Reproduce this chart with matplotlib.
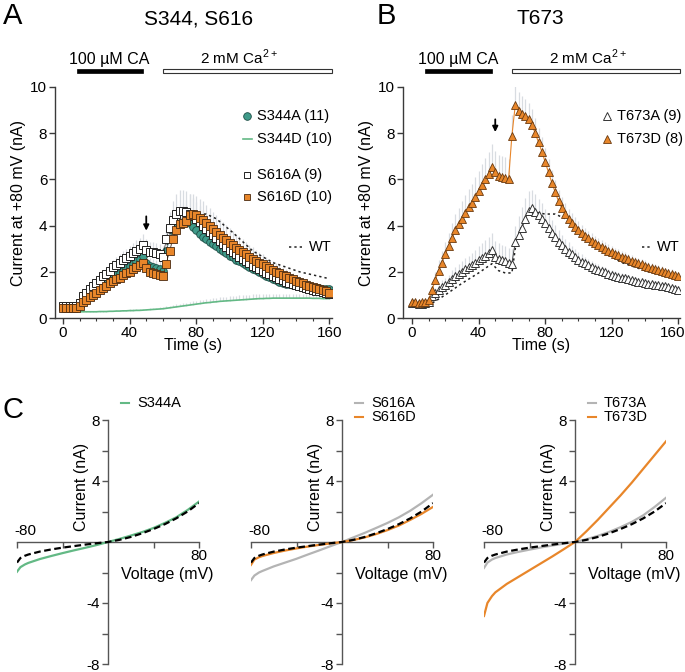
import numpy as np
import matplotlib.pyplot as plt
import matplotlib.transforms as mtransforms
from matplotlib.patches import Rectangle

plt.rcParams['font.family'] = ['Liberation Sans', 'DejaVu Sans']
plt.rcParams['mathtext.fontset'] = 'custom'
plt.rcParams['mathtext.rm'] = 'Liberation Sans'
plt.rcParams['font.size'] = 10.5

# time course, sampled every 2 s
t = np.arange(0, 161, 2)

s344a = [0.45, 0.45, 0.45, 0.45, 0.45, 0.6, 0.8, 0.95, 1.05, 1.15,
         1.25, 1.35, 1.45, 1.55, 1.65, 1.75, 1.85, 1.95, 2.05, 2.15,
         2.25, 2.35, 2.45, 2.55, 2.7, 2.4, 2.25, 2.2, 2.15, 2.1,
         2.05, 2.9, 3.4, 3.8, 4.0, 4.1, 4.15, 4.2, 4.1, 3.95,
         3.8, 3.65, 3.52, 3.42, 3.3, 3.2, 3.1, 3.0, 2.9, 2.8,
         2.7, 2.62, 2.53, 2.45, 2.37, 2.3, 2.22, 2.14, 2.06, 1.98,
         1.9, 1.83, 1.76, 1.69, 1.63, 1.58, 1.53, 1.49, 1.46, 1.43,
         1.41, 1.38, 1.36, 1.34, 1.32, 1.3, 1.29, 1.28, 1.27, 1.26,
         1.25]
s344a_err = [0.05, 0.05, 0.05, 0.05, 0.05, 0.08, 0.1, 0.12, 0.14, 0.15,
             0.17, 0.18, 0.2, 0.21, 0.22, 0.24, 0.25, 0.26, 0.28, 0.3,
             0.31, 0.33, 0.35, 0.37, 0.4, 0.38, 0.36, 0.35, 0.35, 0.35,
             0.35, 0.45, 0.55, 0.6, 0.65, 0.68, 0.7, 0.7, 0.68, 0.65,
             0.62, 0.6, 0.58, 0.56, 0.54, 0.52, 0.5, 0.48, 0.46, 0.44,
             0.42, 0.4, 0.38, 0.36, 0.34, 0.33, 0.32, 0.31, 0.3, 0.29,
             0.28, 0.27, 0.26, 0.25, 0.24, 0.23, 0.22, 0.21, 0.2, 0.2,
             0.19, 0.19, 0.18, 0.18, 0.17, 0.17, 0.16, 0.16, 0.15, 0.15,
             0.15]

s344d = [0.27, 0.27, 0.27, 0.27, 0.27, 0.27, 0.27, 0.27, 0.27, 0.27,
         0.27, 0.28, 0.28, 0.28, 0.29, 0.29, 0.3, 0.3, 0.31, 0.31,
         0.32, 0.32, 0.33, 0.33, 0.34, 0.35, 0.36, 0.37, 0.38, 0.39,
         0.4, 0.42, 0.44, 0.46, 0.48, 0.5, 0.52, 0.54, 0.56, 0.58,
         0.6, 0.62, 0.64, 0.66, 0.67, 0.69, 0.7, 0.72, 0.73, 0.74,
         0.75, 0.76, 0.77, 0.78, 0.79, 0.8, 0.81, 0.82, 0.83, 0.84,
         0.84, 0.85, 0.85, 0.86, 0.86, 0.86, 0.86, 0.86, 0.86, 0.86,
         0.86, 0.86, 0.86, 0.86, 0.86, 0.85, 0.85, 0.85, 0.84, 0.84,
         0.84]
s344d_err = [0.02, 0.02, 0.02, 0.02, 0.02, 0.02, 0.02, 0.02, 0.02, 0.02,
             0.02, 0.02, 0.03, 0.03, 0.03, 0.03, 0.04, 0.04, 0.04, 0.04,
             0.05, 0.05, 0.05, 0.05, 0.06, 0.06, 0.06, 0.07, 0.07, 0.08,
             0.08, 0.09, 0.1, 0.1, 0.11, 0.12, 0.12, 0.13, 0.14, 0.14,
             0.15, 0.15, 0.16, 0.16, 0.17, 0.17, 0.18, 0.18, 0.18, 0.19,
             0.19, 0.19, 0.2, 0.2, 0.2, 0.2, 0.2, 0.2, 0.2, 0.2,
             0.2, 0.2, 0.2, 0.2, 0.2, 0.2, 0.19, 0.19, 0.19, 0.19,
             0.18, 0.18, 0.18, 0.18, 0.17, 0.17, 0.17, 0.17, 0.16, 0.16,
             0.16]

s616a = [0.5, 0.5, 0.5, 0.5, 0.5, 0.65, 0.95, 1.1, 1.25, 1.4,
         1.5, 1.65, 1.8, 1.9, 2.05, 2.2, 2.3, 2.4, 2.5, 2.6,
         2.7, 2.8, 2.9, 3.0, 3.15, 2.95, 2.85, 2.85, 2.8, 2.75,
         2.65, 3.4, 3.9, 4.25, 4.5, 4.65, 4.65, 4.6, 4.5, 4.4,
         4.28, 4.15, 4.0, 3.86, 3.72, 3.58, 3.45, 3.32, 3.2, 3.08,
         2.96, 2.85, 2.75, 2.65, 2.55, 2.45, 2.36, 2.27, 2.19, 2.11,
         2.03, 1.96, 1.89, 1.82, 1.76, 1.7, 1.64, 1.58, 1.53, 1.48,
         1.43, 1.39, 1.35, 1.31, 1.27, 1.23, 1.19, 1.15, 1.11, 1.08,
         1.05]
s616a_err = [0.06, 0.06, 0.06, 0.06, 0.06, 0.1, 0.14, 0.16, 0.18, 0.2,
             0.22, 0.24, 0.26, 0.28, 0.3, 0.32, 0.34, 0.36, 0.38, 0.4,
             0.42, 0.44, 0.46, 0.48, 0.5, 0.48, 0.46, 0.45, 0.45, 0.45,
             0.45, 0.6, 0.7, 0.8, 0.85, 0.9, 0.9, 0.88, 0.85, 0.8,
             0.76, 0.72, 0.68, 0.64, 0.6, 0.56, 0.53, 0.5, 0.47, 0.44,
             0.42, 0.4, 0.38, 0.36, 0.34, 0.32, 0.3, 0.29, 0.28, 0.27,
             0.26, 0.25, 0.24, 0.23, 0.22, 0.21, 0.2, 0.2, 0.19, 0.19,
             0.18, 0.18, 0.17, 0.17, 0.16, 0.16, 0.15, 0.15, 0.15, 0.14,
             0.14]

s616d = [0.45, 0.45, 0.45, 0.45, 0.45, 0.5, 0.7, 0.8, 0.9, 1.0,
         1.1, 1.2, 1.3, 1.4, 1.5, 1.6, 1.7, 1.75, 1.85, 1.95,
         2.0, 2.1, 2.2, 2.3, 2.4, 2.15, 2.0, 1.95, 1.9, 1.85,
         1.8, 2.35, 2.9, 3.4, 3.8, 4.05, 4.1, 4.2, 4.45, 4.5,
         4.45, 4.35, 4.25, 4.12, 4.0, 3.86, 3.72, 3.6, 3.47, 3.36,
         3.25, 3.15, 3.05, 2.95, 2.85, 2.75, 2.65, 2.56, 2.48, 2.4,
         2.32, 2.24, 2.16, 2.08, 2.01, 1.94, 1.87, 1.8, 1.73, 1.67,
         1.61, 1.55, 1.5, 1.45, 1.4, 1.35, 1.3, 1.25, 1.2, 1.15,
         1.1]
s616d_err = [0.05, 0.05, 0.05, 0.05, 0.05, 0.08, 0.1, 0.12, 0.14, 0.16,
             0.18, 0.2, 0.22, 0.24, 0.26, 0.28, 0.3, 0.32, 0.34, 0.36,
             0.38, 0.4, 0.42, 0.44, 0.46, 0.44, 0.42, 0.4, 0.4, 0.4,
             0.4, 0.5, 0.6, 0.7, 0.8, 0.85, 0.9, 0.9, 0.9, 0.88,
             0.85, 0.82, 0.8, 0.78, 0.76, 0.74, 0.72, 0.7, 0.68, 0.66,
             0.64, 0.62, 0.6, 0.58, 0.56, 0.54, 0.52, 0.5, 0.48, 0.46,
             0.44, 0.42, 0.4, 0.38, 0.36, 0.34, 0.32, 0.3, 0.29, 0.28,
             0.27, 0.26, 0.25, 0.24, 0.23, 0.22, 0.21, 0.2, 0.2, 0.2,
             0.2]

t673a = [0.65, 0.65, 0.6, 0.62, 0.65, 0.7, 0.95, 1.1, 1.2, 1.35,
         1.45, 1.55, 1.7, 1.8, 1.9, 2.0, 2.1, 2.2, 2.3, 2.4,
         2.5, 2.6, 2.7, 2.8, 2.95, 2.65, 2.55, 2.5, 2.45, 2.4,
         2.35, 3.3, 3.6, 3.9, 4.3, 4.65, 4.75, 4.6, 4.45, 4.3,
         4.1, 3.9, 3.7, 3.5, 3.3, 3.15, 3.0, 2.87, 2.75, 2.63,
         2.52, 2.44, 2.36, 2.28, 2.2, 2.13, 2.07, 2.02, 1.97, 1.92,
         1.87, 1.83, 1.79, 1.75, 1.71, 1.67, 1.63, 1.6, 1.57, 1.54,
         1.51, 1.49, 1.47, 1.45, 1.43, 1.4, 1.37, 1.34, 1.3, 1.26,
         1.22]
t673a_err = [0.05, 0.05, 0.05, 0.05, 0.05, 0.1, 0.15, 0.2, 0.24, 0.28,
             0.3, 0.33, 0.36, 0.39, 0.42, 0.45, 0.48, 0.5, 0.53, 0.56,
             0.6, 0.63, 0.66, 0.7, 0.75, 0.7, 0.68, 0.66, 0.65, 0.64,
             0.62, 0.7, 0.8, 0.9, 0.9, 0.85, 0.8, 0.75, 0.7, 0.66,
             0.62, 0.58, 0.55, 0.52, 0.49, 0.46, 0.43, 0.4, 0.38, 0.36,
             0.34, 0.32, 0.3, 0.28, 0.27, 0.26, 0.25, 0.24, 0.23, 0.22,
             0.21, 0.2, 0.19, 0.18, 0.18, 0.17, 0.17, 0.16, 0.16, 0.15,
             0.15, 0.14, 0.14, 0.13, 0.13, 0.12, 0.12, 0.12, 0.11, 0.11,
             0.11]

t673d = [0.7, 0.7, 0.65, 0.7, 0.7, 0.8, 1.2, 1.65, 2.05, 2.4,
         2.75, 3.1, 3.45, 3.8, 4.05, 4.3, 4.55, 4.8, 5.0, 5.25,
         5.5, 5.75, 6.0, 6.25, 6.55, 6.3, 6.15, 6.1, 6.05, 6.0,
         7.9, 9.2, 8.95, 8.82, 8.75, 8.6, 8.35, 8.0, 7.6, 7.2,
         6.75, 6.3, 5.85, 5.45, 5.05, 4.75, 4.5, 4.3, 4.12, 3.96,
         3.82, 3.68, 3.56, 3.45, 3.35, 3.25, 3.16, 3.08, 3.0, 2.92,
         2.85, 2.78, 2.72, 2.66, 2.6, 2.54, 2.48, 2.42, 2.37, 2.32,
         2.27, 2.22, 2.17, 2.12, 2.08, 2.03, 1.98, 1.94, 1.9, 1.85,
         1.8]
t673d_err = [0.08, 0.08, 0.08, 0.08, 0.08, 0.15, 0.25, 0.35, 0.45, 0.5,
             0.55, 0.6, 0.65, 0.7, 0.72, 0.75, 0.78, 0.8, 0.82, 0.85,
             0.88, 0.9, 0.92, 0.95, 0.98, 0.95, 0.92, 0.9, 0.9, 0.9,
             0.9, 0.9, 0.85, 0.8, 0.75, 0.7, 0.68, 0.66, 0.64, 0.62,
             0.6, 0.58, 0.55, 0.52, 0.5, 0.48, 0.46, 0.44, 0.42, 0.4,
             0.38, 0.36, 0.34, 0.33, 0.32, 0.31, 0.3, 0.29, 0.28, 0.27,
             0.26, 0.26, 0.25, 0.25, 0.24, 0.24, 0.23, 0.23, 0.22, 0.22,
             0.22, 0.21, 0.21, 0.2, 0.2, 0.2, 0.2, 0.2, 0.2, 0.2,
             0.2]

# wild-type reference trace (dotted)
wt_t = [0, 8, 10, 20, 30, 40, 48, 50, 52, 56, 60, 62, 64, 66, 68, 70, 72,
        76, 80, 86, 92, 102, 114, 126, 142, 160]
wt_i = [0.5, 0.5, 0.55, 1.0, 1.5, 1.95, 2.35, 2.2, 2.05, 1.95, 1.95, 3.0,
        3.6, 4.0, 4.3, 4.5, 4.6, 4.55, 4.5, 4.5, 4.3, 3.7, 2.9, 2.4, 2.0, 1.7]

# I-V relations
volt = [-80, -77, -73, -70, -60, -50, -40, -30, -20, -10, 0, 10, 20, 30, 40, 50, 60, 70, 80]
wt_iv = [-1.35, -1.05, -0.9, -0.82, -0.63, -0.49, -0.37, -0.27, -0.17, -0.08, 0,
         0.14, 0.33, 0.57, 0.85, 1.17, 1.55, 2.0, 2.55]
s344a_iv = [-1.95, -1.65, -1.47, -1.37, -1.12, -0.92, -0.73, -0.55, -0.38, -0.2, 0,
            0.2, 0.42, 0.65, 0.92, 1.25, 1.62, 2.1, 2.65]
s616a_iv = [-2.5, -2.2, -2.0, -1.9, -1.6, -1.35, -1.1, -0.82, -0.55, -0.27, 0,
            0.3, 0.6, 0.92, 1.25, 1.62, 2.05, 2.55, 3.1]
s616d_iv = [-1.5, -1.15, -1.0, -0.92, -0.72, -0.56, -0.42, -0.3, -0.19, -0.09, 0,
            0.13, 0.3, 0.52, 0.78, 1.08, 1.45, 1.85, 2.3]
t673a_iv = [-1.7, -1.35, -1.15, -1.05, -0.82, -0.65, -0.5, -0.36, -0.23, -0.11, 0,
            0.18, 0.4, 0.66, 0.97, 1.32, 1.75, 2.3, 2.9]
t673d_iv = [-4.85, -4.0, -3.55, -3.3, -2.75, -2.3, -1.85, -1.4, -0.95, -0.48, 0,
            0.7, 1.45, 2.25, 3.05, 3.9, 4.8, 5.7, 6.6]

TEAL = '#3f9a89'
GREEN = '#63b985'
ORANGE = '#e8862a'
GREY = '#b4b4b4'
ERRC = '#d8dce1'
SPINE = '#3a3a3a'

W, H = 685, 672
fig = plt.figure(figsize=(W / 100, H / 100), dpi=100)


def add_ax(left, top, right, bottom):
    return fig.add_axes([left / W, 1 - bottom / H, (right - left) / W, (bottom - top) / H])


def time_axes(left, x0px):
    # x0px = pixel of t=0, 1.665 px per second
    ax = add_ax(left, 87, left + 277, 318)
    sc = 1.665
    ax.set_xlim((left - x0px) / sc, (left + 277 - x0px) / sc)
    ax.set_ylim(0, 10)
    for s in ['top', 'right']:
        ax.spines[s].set_visible(False)
    for s in ['left', 'bottom']:
        ax.spines[s].set_color(SPINE)
        ax.spines[s].set_linewidth(1)
    ax.set_xticks([0, 40, 80, 120, 160])
    ax.set_xticks(np.arange(0, 161, 10), minor=True)
    ax.set_yticks([0, 2, 4, 6, 8, 10])
    ax.tick_params(which='major', length=4, width=1, color=SPINE, pad=1.5, labelsize=11)
    ax.tick_params(which='minor', length=2.5, width=0.8, color=SPINE)
    ax.set_xlabel('Time (s)', labelpad=-1, fontsize=11.5)
    ax.set_ylabel('Current at +80 mV (nA)', labelpad=3, fontsize=11.5)
    return ax


def errbars(ax, y, e, z=1):
    y = np.asarray(y)
    ax.vlines(t, y, y + np.asarray(e), color=ERRC, lw=0.9, zorder=z)


def bars_and_arrow(ax, black, white, arrow_y):
    ax.add_patch(Rectangle((black[0], 10.6), black[1] - black[0], 0.18,
                           facecolor='black', edgecolor='black', lw=0.5, clip_on=False))
    ax.add_patch(Rectangle((white[0], 10.6), white[1] - white[0], 0.16,
                           facecolor='white', edgecolor='#333333', lw=0.8, clip_on=False))
    ax.text(28, 11.0, '100 µM CA', ha='center', va='baseline', fontsize=11.5)
    ax.text(105.5, 11.0, r'2 mM Ca$^{\mathregular{2+}}$', ha='center', va='baseline', fontsize=11)
    ax.annotate('', xy=(50, arrow_y[1]), xytext=(50, arrow_y[0]),
                arrowprops=dict(arrowstyle='-|>', color='black', lw=1.3,
                                mutation_scale=8, shrinkA=0, shrinkB=0))


# ---------------- panel A ----------------
axA = time_axes(55, 63)
axA.plot(wt_t, wt_i, color='#222222', lw=1.1, ls=(0, (1.5, 2)), zorder=2)
errbars(axA, s344d, s344d_err)
axA.plot(t, s344d, color=GREEN, lw=1.2, zorder=2.5)
errbars(axA, s344a, s344a_err)
axA.plot(t, s344a, '-', color='#1e4d45', lw=0.5, marker='o', ms=5.5,
         mfc=TEAL, mec='#1e4d45', mew=0.6, zorder=3)
errbars(axA, s616a, s616a_err)
axA.plot(t, s616a, '-', color='#222222', lw=0.5, marker='s', ms=5.3,
         mfc='white', mec='#222222', mew=0.7, zorder=4)
errbars(axA, s616d, s616d_err)
axA.plot(t, s616d, '-', color='#4a2a10', lw=0.5, marker='s', ms=5.3,
         mfc=ORANGE, mec='#4a2a10', mew=0.6, zorder=5)
bars_and_arrow(axA, (8.5, 48), (60, 161.5), (4.4, 3.78))

# legend A
axA.plot([110.8], [8.74], 'o', ms=5.5, mfc=TEAL, mec='#1e4d45', mew=0.6, clip_on=False)
axA.plot([108.2, 113.4], [7.74, 7.74], color=GREEN, lw=1.2, clip_on=False)
axA.plot([110.8], [6.2], 's', ms=5, mfc='white', mec='#222222', mew=0.7, clip_on=False)
axA.plot([110.8], [5.25], 's', ms=5, mfc=ORANGE, mec='#4a2a10', mew=0.6, clip_on=False)
for yy, lab in [(8.74, 'S344A (11)'), (7.74, 'S344D (10)'), (6.2, 'S616A (9)'), (5.25, 'S616D (10)')]:
    axA.text(116.5, yy, lab, va='center', ha='left')
axA.plot([136, 145], [3.07, 3.07], color='#222222', lw=1.1, ls=(0, (1.5, 2)))
axA.text(148, 3.07, 'WT', va='center', ha='left')

# ---------------- panel B ----------------
axB = time_axes(403, 412)
axB.plot(wt_t, wt_i, color='#222222', lw=1.1, ls=(0, (1.5, 2)), zorder=2)
errbars(axB, t673a, t673a_err)
axB.plot(t, t673a, '-', color='#333333', lw=0.6, marker='^', ms=5.5,
         mfc='white', mec='#333333', mew=0.7, zorder=4)
errbars(axB, t673d, t673d_err)
axB.plot(t, t673d, '-', color=ORANGE, lw=0.8, marker='^', ms=5.5,
         mfc=ORANGE, mec='#6a3a10', mew=0.6, zorder=5)
bars_and_arrow(axB, (7.8, 48), (60.2, 161.2), (8.6, 8.05))

axB.plot([117.3], [8.74], '^', ms=5.5, mfc='white', mec='#333333', mew=0.7, clip_on=False)
axB.plot([117.3], [7.74], '^', ms=5.5, mfc=ORANGE, mec='#6a3a10', mew=0.6, clip_on=False)
axB.text(123, 8.74, 'T673A (9)', va='center', ha='left')
axB.text(123, 7.74, 'T673D (8)', va='center', ha='left')
axB.plot([138.3, 144.4], [3.07, 3.07], color='#222222', lw=1.1, ls=(0, (1.5, 2)))
axB.text(147.3, 3.07, 'WT', va='center', ha='left')

# keep the last tick label of B inside the figure
lastlab = axB.get_xticklabels()[-1]
lastlab.set_transform(lastlab.get_transform() +
                      mtransforms.ScaledTranslation(-6 / 100, 0, fig.dpi_scale_trans))


# ---------------- panel C ----------------
def iv_axes(left):
    ax = add_ax(left, 420, left + 182, 664)
    ax.set_xlim(-80, 80)
    ax.set_ylim(-8, 8)
    for s in ['top', 'right']:
        ax.spines[s].set_visible(False)
    for s in ['left', 'bottom']:
        ax.spines[s].set_position('zero')
        ax.spines[s].set_color('#555555')
        ax.spines[s].set_linewidth(1)
    ax.set_xticks([-80, -40, 40, 80])
    ax.set_xticklabels([])
    ax.set_yticks([-8, -4, 4, 8])
    ax.set_yticklabels(['-8', '-4', '4', '8'])
    ax.set_yticks([-6, -2, 2, 6], minor=True)
    ax.tick_params(which='both', color='#555555', width=1, pad=1.5, labelsize=11)
    ax.tick_params(which='major', length=4)
    ax.tick_params(which='minor', length=4)
    ax.text(-73, 0.25, '-80', ha='center', va='bottom', fontsize=11)
    ax.text(80, -0.45, '80', ha='center', va='top', fontsize=11)
    ax.text(52, -2.1, 'Voltage (mV)', ha='center', va='center', fontsize=11.5)
    ax.text(-23, 3.6, 'Current (nA)', ha='center', va='center', rotation=90, fontsize=11.5)
    return ax


def iv_legend(ax, items):
    for k, (lab, col) in enumerate(items):
        yy = 9.1 - 0.9 * k
        ax.plot([11.5, 18.5], [yy, yy], color=col, lw=1.5, clip_on=False)
        ax.text(25.5, yy, lab, va='center', ha='left')


wt_style = dict(color='black', lw=1.6, ls=(0, (3, 1.6)), zorder=5)

axC1 = iv_axes(17)
axC1.plot(volt, s344a_iv, color=GREEN, lw=1.6, zorder=3)
axC1.plot(volt, wt_iv, **wt_style)
iv_legend(axC1, [('S344A', GREEN)])

axC2 = iv_axes(251)
axC2.plot(volt, s616a_iv, color=GREY, lw=1.6, zorder=3)
axC2.plot(volt, s616d_iv, color=ORANGE, lw=1.6, zorder=4)
axC2.plot(volt, wt_iv, **wt_style)
iv_legend(axC2, [('S616A', GREY), ('S616D', ORANGE)])

axC3 = iv_axes(484)
axC3.plot(volt, t673a_iv, color=GREY, lw=1.6, zorder=3)
axC3.plot(volt, t673d_iv, color=ORANGE, lw=1.6, zorder=4)
axC3.plot(volt, wt_iv, **wt_style)
iv_legend(axC3, [('T673A', GREY), ('T673D', ORANGE)])

# titles and panel letters
fig.text(199 / W, 1 - 19 / H, 'S344, S616', ha='center', va='center', fontsize=15)
fig.text(540 / W, 1 - 19 / H, 'T673', ha='center', va='center', fontsize=15)
fig.text(3 / W, 1 - 2 / H, 'A', ha='left', va='top', fontsize=21)
fig.text(377 / W, 1 - 2 / H, 'B', ha='left', va='top', fontsize=21)
fig.text(3 / W, 1 - 396 / H, 'C', ha='left', va='top', fontsize=21)

fig.savefig('out.png', dpi=100)
